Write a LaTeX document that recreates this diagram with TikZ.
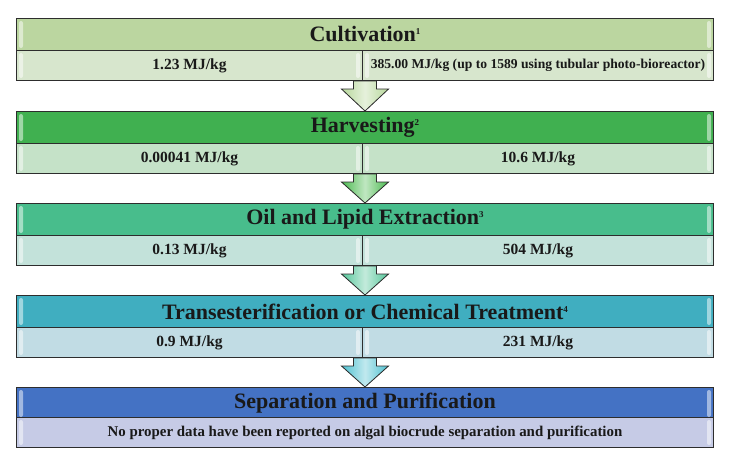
\documentclass[tikz,border=0pt]{standalone}
\usepackage{fontspec}
\setmainfont{Liberation Serif}
\usetikzlibrary{calc}
\definecolor{tA}{RGB}{187,214,160}\definecolor{sA}{RGB}{215,230,205}
\definecolor{tB}{RGB}{64,176,80}\definecolor{sB}{RGB}{197,226,200}
\definecolor{tC}{RGB}{72,189,140}\definecolor{sC}{RGB}{195,226,218}
\definecolor{tD}{RGB}{64,174,192}\definecolor{sD}{RGB}{193,220,228}
\definecolor{tE}{RGB}{68,114,196}\definecolor{sE}{RGB}{198,203,230}
\definecolor{aA}{RGB}{183,215,155}\definecolor{aB}{RGB}{76,186,80}
\definecolor{aC}{RGB}{85,198,154}\definecolor{aD}{RGB}{78,192,208}
\definecolor{edge}{RGB}{45,45,45}
\newcommand{\supnum}[1]{{\fontsize{9}{9}\selectfont\raisebox{7pt}{#1}}}
\newcommand{\shine}[1]{%
  \fill[white,opacity=0.5,rounded corners=2pt] ($(#1.north west)+(3,3)$) rectangle ($(#1.south west)+(7,-3)$);
  \fill[white,opacity=0.5,rounded corners=2pt] ($(#1.north east)+(-7,3)$) rectangle ($(#1.south east)+(-3,-3)$);}
\newcommand{\blkarrow}[3]{%
  \filldraw[draw=edge,line width=0.8pt,left color=#3,right color=#3,middle color=#3!35!white]
   let \p1=(#1.south east), \p2=(#2.north) in
   (\x1+2pt-11.5pt,\y1) -- (\x1+2pt+11.5pt,\y1) -- (\x1+2pt+11.5pt,\y1-8pt) -- (\x1+2pt+23.5pt,\y1-8pt)
   -- (\x1+2pt,\y2) -- (\x1+2pt-23.5pt,\y1-8pt) -- (\x1+2pt-11.5pt,\y1-8pt) -- cycle;}
\begin{document}
\begin{tikzpicture}[x=1pt,y=-1pt,
  titlebar/.style={draw=edge,line width=1pt,anchor=north west,minimum width=697pt,minimum height=32pt,inner sep=0pt,font=\fontsize{22}{22}\selectfont\bfseries,text=black!90},
  subbar/.style={draw=edge,line width=1pt,anchor=north west,minimum height=30pt,inner sep=0pt,font=\fontsize{15.5}{15.5}\selectfont\bfseries,text=black!90},
  lsub/.style={subbar,minimum width=346pt},
  rsub/.style={subbar,minimum width=351pt}]
\useasboundingbox (0,0) rectangle (733,463);
% Box 1
\node[titlebar,fill=tA] (t1) at (16,18) {Cultivation\supnum{1}};
\node[lsub,fill=sA] (l1) at (16,50) {1.23 MJ/kg};
\node[rsub,fill=sA] (r1) at (362,50) {\fontsize{13.6}{13.6}\selectfont 385.00 MJ/kg (up to 1589 using tubular photo-bioreactor)};
% Box 2
\node[titlebar,fill=tB] (t2) at (16,111) {Harvesting\supnum{2}};
\node[lsub,fill=sB] (l2) at (16,143) {0.00041 MJ/kg};
\node[rsub,fill=sB] (r2) at (362,143) {10.6 MJ/kg};
% Box 3
\node[titlebar,fill=tC] (t3) at (16,203) {Oil and Lipid Extraction\supnum{3}};
\node[lsub,fill=sC] (l3) at (16,235) {0.13 MJ/kg};
\node[rsub,fill=sC] (r3) at (362,235) {504 MJ/kg};
% Box 4
\node[titlebar,fill=tD] (t4) at (16,295) {Transesterification or Chemical Treatment\supnum{4}};
\node[lsub,fill=sD] (l4) at (16,327) {0.9 MJ/kg};
\node[rsub,fill=sD] (r4) at (362,327) {231 MJ/kg};
% Box 5
\node[titlebar,fill=tE] (t5) at (16,387) {Separation and Purification};
\node[subbar,minimum width=697pt,fill=sE] (s5) at (16,417) {\fontsize{14.9}{14.9}\selectfont No proper data have been reported on algal biocrude separation and purification};
\foreach \n in {t1,l1,r1,t2,l2,r2,t3,l3,r3,t4,l4,r4,t5,s5}{\shine{\n}}
\blkarrow{l1}{t2}{aA}
\blkarrow{l2}{t3}{aB}
\blkarrow{l3}{t4}{aC}
\blkarrow{l4}{t5}{aD}
\end{tikzpicture}
\end{document}
